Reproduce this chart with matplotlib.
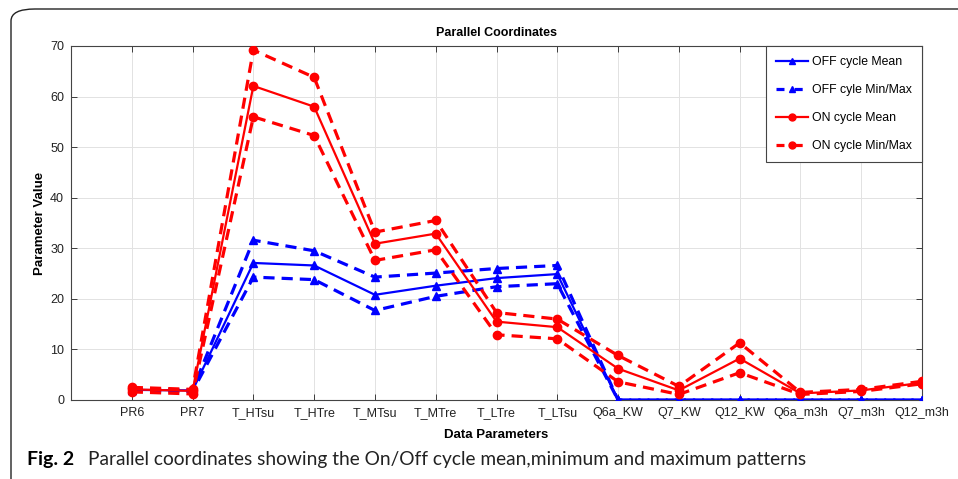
import matplotlib
matplotlib.use("Agg")
import matplotlib.pyplot as plt
from matplotlib.patches import FancyBboxPatch
from matplotlib.lines import Line2D

params = ["PR6", "PR7", "T_HTsu", "T_HTre", "T_MTsu", "T_MTre", "T_LTre", "T_LTsu",
          "Q6a_KW", "Q7_KW", "Q12_KW", "Q6a_m3h", "Q7_m3h", "Q12_m3h"]

off_mean = [2.0, 1.9, 27.1, 26.6, 20.8, 22.6, 24.1, 24.9, 0, 0, 0, 0, 0, 0]
off_max = [2.1, 2.0, 31.6, 29.5, 24.3, 25.1, 26.0, 26.6, 0, 0, 0, 0, 0, 0]
off_min = [1.9, 1.7, 24.3, 23.8, 17.7, 20.5, 22.4, 23.0, 0, 0, 0, 0, 0, 0]

on_mean = [2.1, 1.8, 62.1, 58.0, 30.9, 32.9, 15.5, 14.4, 6.2, 1.9, 8.2, 1.3, 1.9, 3.4]
on_max = [2.5, 2.1, 69.2, 63.8, 33.2, 35.5, 17.3, 16.0, 8.8, 2.7, 11.3, 1.5, 2.1, 3.7]
on_min = [1.6, 1.2, 56.0, 52.3, 27.6, 29.7, 12.9, 12.1, 3.6, 1.1, 5.4, 1.1, 1.7, 3.2]

BLUE = "#0000ff"
RED = "#ff0000"

plt.rcParams["font.family"] = ["Liberation Sans", "DejaVu Sans"]

fig = plt.figure(figsize=(9.58, 4.79), dpi=100)

# rounded frame around the figure panel (right and bottom edges run off the canvas)
frame = FancyBboxPatch((11 / 958, -0.2), 1.2, 1.2 - 9 / 479,
                       boxstyle="round,pad=0,rounding_size=0.025",
                       transform=fig.transFigure, fill=False,
                       edgecolor="#222222", linewidth=1.0, clip_on=False)
fig.patches.append(frame)

ax = fig.add_axes([71 / 958, 79 / 479, 851 / 958, 354 / 479])

x = list(range(1, len(params) + 1))
dash = (0, (3.5, 2.2))

ax.plot(x, off_mean, color=BLUE, lw=1.6, marker="^", ms=6, zorder=3)
ax.plot(x, off_max, color=BLUE, lw=2.3, ls=dash, marker="^", ms=6, zorder=3)
ax.plot(x, off_min, color=BLUE, lw=2.3, ls=dash, marker="^", ms=6, zorder=3)
ax.plot(x, on_mean, color=RED, lw=1.6, marker="o", ms=6, zorder=4)
ax.plot(x, on_max, color=RED, lw=2.3, ls=dash, marker="o", ms=6, zorder=4)
ax.plot(x, on_min, color=RED, lw=2.3, ls=dash, marker="o", ms=6, zorder=4)

ax.set_xlim(0, len(params))
ax.set_ylim(0, 70)
ax.set_xticks(x)
ax.set_xticklabels(params)
ax.set_yticks(range(0, 71, 10))
ax.tick_params(direction="in", top=True, right=True, labelsize=9,
               colors="#222222", length=4, width=0.6, pad=5)
ax.tick_params(axis="y", pad=5)
ax.grid(True, color="#e2e2e2", linewidth=0.7)
ax.set_axisbelow(True)
for s in ax.spines.values():
    s.set_color("#444444")
    s.set_linewidth(0.8)

ax.set_title("Parallel Coordinates", fontsize=9, fontweight="bold", pad=7)
ax.set_xlabel("Data Parameters", fontsize=9.5, fontweight="bold", labelpad=7)
ax.set_ylabel("Parameter Value", fontsize=9.5, fontweight="bold", labelpad=3)

handles = [
    Line2D([], [], color=BLUE, lw=1.6, marker="^", ms=5),
    Line2D([], [], color=BLUE, lw=2.3, ls=(0, (2.5, 3.2)), marker="^", ms=5),
    Line2D([], [], color=RED, lw=1.6, marker="o", ms=5),
    Line2D([], [], color=RED, lw=2.3, ls=(0, (2.5, 3.2)), marker="o", ms=5),
]
labels = ["OFF cycle Mean", "OFF cyle Min/Max", "ON cycle Mean", "ON cycle Min/Max"]
leg = ax.legend(handles, labels, loc="upper right", borderaxespad=0, fontsize=8.8,
                handlelength=2.6, handletextpad=0.3, labelspacing=1.3,
                borderpad=0.85, fancybox=False, framealpha=1, edgecolor="#444444")
leg.get_frame().set_linewidth(0.8)

fig.text(27 / 958, 1 - 459 / 479, "Fig. 2", fontsize=14, fontweight="bold",
         family=["Lato", "DejaVu Sans"], va="center", ha="left")
fig.text(88 / 958, 1 - 459 / 479,
         "Parallel coordinates showing the On/Off cycle mean,minimum and maximum patterns",
         fontsize=13.8, family=["Lato", "DejaVu Sans"], va="center", ha="left",
         color="#222222")

fig.savefig("out.png", dpi=100)
